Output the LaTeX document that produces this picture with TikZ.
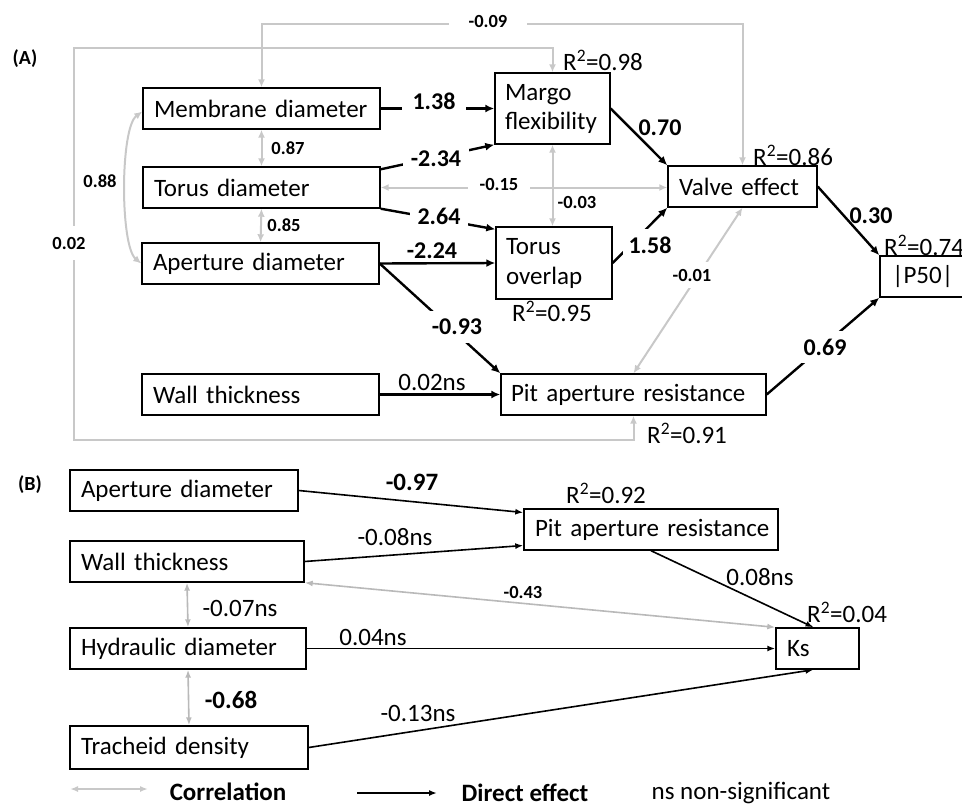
\documentclass[tikz,border=0pt]{standalone}
\usepackage{fontspec}
\setmainfont{Carlito}
\usetikzlibrary{arrows.meta,calc}
\definecolor{lgray}{RGB}{200,200,200}
\definecolor{bgray}{RGB}{185,185,185}
\tikzset{
  box/.style={draw, line width=1.4pt, inner xsep=11pt, inner ysep=0pt, align=left, font=\fontsize{25}{30}\selectfont, execute at begin node={\hyphenpenalty=10000\relax}},
  corrA/.style={draw=lgray, line width=2pt, {Latex[length=8pt,width=7pt]}-{Latex[length=8pt,width=7pt]}},
  corrB/.style={draw=bgray, line width=1.6pt, {Latex[length=8pt,width=6pt]}-{Latex[length=8pt,width=6pt]}},
  effA/.style={line width=2.4pt, -{Latex[length=9pt,width=8pt]}},
  effB/.style={line width=1.6pt, -{Latex[length=8pt,width=6pt]}},
  lab/.style={inner sep=0pt, font=\fontsize{25}{30}\selectfont},
  blab/.style={inner sep=0pt, font=\bfseries\fontsize{24}{28}\selectfont},
  slab/.style={inner sep=0pt, font=\bfseries\fontsize{18.5}{22}\selectfont},
  gapw/.style={fill=white, inner xsep=10pt, inner ysep=4pt}
}
\begin{document}
\begin{tikzpicture}[x=1pt,y=-1pt]
\useasboundingbox (0,0) rectangle (962,806);
\clip (0,0) rectangle (962,806);

% ---------- Panel A ----------
\node[font=\bfseries\fontsize{20}{24}\selectfont, inner sep=0pt] (labA) at (25,59) {(A)};

\node[box, text width=215pt, minimum height=41pt] (mem) at (261.5,108.5) {Membrane diameter};
\node[box, text width=215pt, minimum height=41pt] (tor) at (261.5,187.5) {Torus diameter};
\node[box, text width=215pt, minimum height=41pt] (ape) at (260.5,263.5) {Aperture diameter};
\node[box, text width=215pt, minimum height=41pt] (wall) at (260.5,394.5) {Wall thickness};
\node[box, inner xsep=10pt, text width=95pt, minimum height=71pt, font=\fontsize{25}{29}\selectfont] (margo) at (552.5,108.5) {Margo\\flexibility};
\node[box, text width=127pt, minimum height=41pt] (valve) at (742.5,186.5) {Valve effect};
\node[box, inner xsep=10pt, text width=96pt, minimum height=72pt, font=\fontsize{25}{30}\selectfont] (tov) at (554,263) {Torus\\overlap};
\node[box, inner xsep=12pt, text width=86pt, minimum height=41pt] (p50) at (935,276.5) {|P50|};
\node[box, inner xsep=8pt, text width=249pt, minimum height=41pt] (par) at (633.5,394.5) {\hspace*{2pt}Pit aperture resistance};

% R2 labels A
\node[lab, anchor=west] (r98) at (563,60) {R\textsuperscript{2}=0.98};
\node[lab, anchor=west] (r86) at (753,155) {R\textsuperscript{2}=0.86};
\node[lab, anchor=west] (r74) at (884,245) {R\textsuperscript{2}=0.74};
\node[lab, anchor=west] (r95) at (512,311) {R\textsuperscript{2}=0.95};
\node[lab, anchor=west] (r91) at (647,433) {R\textsuperscript{2}=0.91};

% gray correlations A
\coordinate (t1) at (263,24);
\draw[corrA] (mem.north) -- (mem.north |- t1) -- (valve.north |- t1) -- (valve.north);
\node[slab, gapw, inner xsep=20pt] (l009) at (488,21) {-0.09};

\coordinate (c1) at (74,48);
\coordinate (c2) at (74,440);
\draw[corrA] (margo.north) -- (margo.north |- c1) -- (c1) -- (c2) -- (par.south |- c2) -- (par.south);
\node[slab, fill=white, inner xsep=3pt, inner ysep=11pt] (l002) at (69,243) {0.02};

\draw[corrA] ([yshift=-3pt]mem.west) .. controls (120,128) and (120,246) .. (ape.west);
\node[slab] (l088) at (100,181) {0.88};

\draw[corrA] (mem.south) -- (tor.north);
\node[slab] (l087) at (288,148) {0.87};
\draw[corrA] (tor.south) -- (ape.north);
\node[slab] (l085) at (284,225) {0.85};

\draw[corrA] (tor.east) -- (tor.east -| valve.west);
\draw[corrA] (margo.south) -- (margo.south |- tov.north);
\node[slab, gapw, inner xsep=12pt, inner ysep=2pt] (l015) at (499,184) {-0.15};
\node[slab] (l003) at (577,202) {-0.03};

\draw[corrA] (par.north) -- (valve.south);
\node[slab, fill=white, inner xsep=4pt, inner ysep=7pt] (l001) at (692,275) {-0.01};

% direct effects A
\draw[effA] (mem.east) -- (margo.west);
\node[blab, gapw, inner xsep=11pt] (l138) at (434,101) {1.38};
\draw[effA] ([yshift=-3pt]tor.north east) -- (margo.south west);
\node[blab, gapw, inner xsep=8pt] (l234) at (436,159) {-2.34};
\draw[effA] (tor.south east) -- ([yshift=-3pt]tov.north west);
\node[blab, gapw, inner xsep=8pt] (l264) at (439,216) {2.64};
\draw[effA] (ape.east) -- (tov.west);
\node[blab] (l224) at (432,251) {-2.24};
\draw[effA] (ape.east) -- (par.north west);
\node[blab, gapw, inner xsep=8pt, inner ysep=8pt] (l093) at (457,327) {-0.93};
\draw[effA] (wall.east) -- (par.west);
\node[lab] (l002ns) at (432,382) {0.02ns};
\draw[effA] (margo.east) -- (valve.north west);
\node[blab] (l070) at (660,128) {0.70};
\draw[effA] (tov.east) -- (valve.south west);
\node[blab, gapw, inner xsep=6pt, inner ysep=8pt] (l158) at (650,245) {1.58};
\draw[effA] (valve.east) -- (p50.north west);
\node[blab] (l030) at (871,216) {0.30};
\draw[effA] (par.east) -- (p50.south west);
\node[blab, gapw, inner xsep=6pt, inner ysep=8pt] (l069) at (825,347) {0.69};

% ---------- Panel B ----------
\node[font=\bfseries\fontsize{20}{24}\selectfont, inner sep=0pt] (labB) at (30,485) {(B)};

\node[box, text width=206pt, minimum height=41pt] (apeB) at (184,490.5) {Aperture diameter};
\node[box, text width=212pt, minimum height=41pt] (wallB) at (187,561.5) {Wall thickness};
\node[box, text width=214pt, minimum height=41pt] (hyd) at (188,648.5) {Hydraulic diameter};
\node[box, text width=216pt, minimum height=43pt] (tra) at (189,747.5) {Tracheid density};
\node[box, inner xsep=7pt, text width=240pt, minimum height=41pt] (parB) at (651,529.5) {\hspace*{4pt}Pit aperture resistance};
\node[box, text width=61pt, minimum height=41pt] (ks) at (817.5,648.5) {Ks};

\node[lab, anchor=west] (r92) at (566,493) {R\textsuperscript{2}=0.92};
\node[lab, anchor=west] (r04) at (807,612) {R\textsuperscript{2}=0.04};

\draw[effB] (apeB.east) -- ([yshift=17pt]parB.west);
\node[lab, font=\bfseries\fontsize{25}{30}\selectfont] (l097) at (412,482) {-0.97};
\draw[effB] (wallB.east) -- ([yshift=-16pt]parB.west);
\node[lab] (l008ns) at (395,537) {-0.08ns};
\draw[effB] (parB.south) -- ([xshift=-4pt]ks.north);
\node[lab] (l008b) at (760,577) {0.08ns};
\draw[corrB] (wallB.south east) -- (ks.north west);
\node[slab] (l043) at (523,592) {-0.43};
\draw[effB] (hyd.east) -- (ks.west);
\node[lab] (l004ns) at (373,637) {0.04ns};
\draw[effB] (tra.east) -- ([xshift=-4pt]ks.south);
\node[lab] (l013ns) at (418,713) {-0.13ns};
\draw[corrB] (wallB.south) -- (hyd.north);
\node[lab] (l007ns) at (240,608) {-0.07ns};
\draw[corrB] (hyd.south) -- (tra.north);
\node[lab, font=\bfseries\fontsize{25}{30}\selectfont] (l068) at (231,700) {-0.68};

% ---------- Legend ----------
\coordinate (g1) at (70,789);
\coordinate (g2) at (148,789);
\draw[corrB, draw=lgray] (g1) -- (g2);
\node[lab, font=\bfseries\fontsize{25}{30}\selectfont] (legc) at (228,792) {Correlation};
\coordinate (k1) at (357,793);
\coordinate (k2) at (437,793);
\draw[effB, line width=2pt] (k1) -- (k2);
\node[lab, font=\bfseries\fontsize{25}{30}\selectfont] (legd) at (525,793) {Direct effect};
\node[lab] (legn) at (741,793) {ns non-significant};
\end{tikzpicture}
\end{document}
